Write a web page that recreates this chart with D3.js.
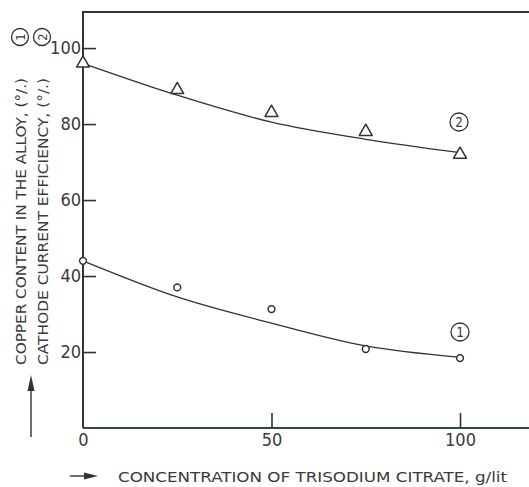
<!DOCTYPE html>
<html><head><meta charset="utf-8">
<script src="https://cdn.jsdelivr.net/npm/d3@7"></script>
<style>
html,body{margin:0;padding:0;background:#fff;}
svg{display:block;}
text{font-family:"DejaVu Sans Condensed","DejaVu Sans","Liberation Sans Narrow",sans-serif;fill:#3a3a3a;}
</style></head>
<body>
<svg id="c" width="529" height="487"></svg>
<script>
// ---- data ----
const concentration = [0, 25, 50, 75, 100];
const copperContent = [44, 37, 31.3, 20.8, 18.4];          // series 1 (circles)
const currentEfficiency = [96, 89, 83, 78, 72];             // series 2 (triangles)
const copperFit = [44, 34.5, 27.6, 21.6, 18.6];             // fitted curve 1
const efficiencyFit = [96, 87.6, 80.5, 76, 72.5];           // fitted curve 2
const xTicks = [0, 50, 100];
const yTicks = [20, 40, 60, 80, 100];
const xLabel = "CONCENTRATION OF TRISODIUM CITRATE, g/lit";
const yLabel1 = "COPPER CONTENT IN THE ALLOY, (°/.)";
const yLabel2 = "CATHODE CURRENT EFFICIENCY, (°/.)";

const svg = d3.select("#c");
const L = 83, R = 529, T = 12, B = 428;
const x = d3.scaleLinear().domain([0, 118.3]).range([L, R]);
const y = d3.scaleLinear().domain([0, 109.5]).range([B, T]);
const ink = "#333";

// frame
svg.append("path").attr("d", `M${R},${T}H${L}V${B}`).attr("fill","none").attr("stroke",ink).attr("stroke-width",2);
svg.append("line").attr("x1",L).attr("x2",R).attr("y1",B).attr("y2",B).attr("stroke","#2f4a3c").attr("stroke-width",2.2);

// axes
const yAxis = svg.append("g").attr("transform",`translate(${L},0)`)
  .call(d3.axisLeft(y).tickValues(yTicks).tickSize(-13).tickPadding(2).tickFormat(d3.format("d")));
const xAxis = svg.append("g").attr("transform",`translate(0,${B})`)
  .call(d3.axisBottom(x).tickValues(xTicks).tickSize(-15).tickPadding(5).tickFormat(d3.format("d")));
[yAxis, xAxis].forEach(g => {
  g.attr("font-size", 18).attr("font-family", null);
  g.select(".domain").remove();
  g.selectAll(".tick line").attr("stroke", ink).attr("stroke-width", 1.6);
  g.selectAll(".tick text").attr("font-size", 18).attr("fill", "#3a3a3a");
});
xAxis.selectAll(".tick").filter(d => d === 0).select("line").remove();

// curves
const line = d3.line().x(d => x(d[0])).y(d => y(d[1])).curve(d3.curveMonotoneX);
[copperFit, efficiencyFit].forEach(s => {
  svg.append("path").datum(concentration.map((c,i) => [c, s[i]]))
    .attr("d", line).attr("fill","none").attr("stroke", ink).attr("stroke-width", 1.3);
});

// markers
svg.selectAll(".pt1").data(concentration.map((c,i)=>[c, copperContent[i]])).enter()
  .append("circle").attr("cx", d=>x(d[0])).attr("cy", d=>y(d[1])).attr("r", 3.4)
  .attr("fill","#fff").attr("stroke", ink).attr("stroke-width", 1.5);
const tri = d3.symbol().type(d3.symbolTriangle).size(72);
svg.selectAll(".pt2").data(concentration.map((c,i)=>[c, currentEfficiency[i]])).enter()
  .append("path").attr("d", tri).attr("transform", d=>`translate(${x(d[0])},${y(d[1])})`)
  .attr("fill","#fff").attr("stroke", ink).attr("stroke-width", 1.5).attr("stroke-linejoin","round");

// circled labels
function circled(cx, cy, t, rot, r) {
  const gg = svg.append("g").attr("transform", `translate(${cx},${cy}) rotate(${rot||0})`);
  gg.append("circle").attr("r", r).attr("fill","none").attr("stroke", ink).attr("stroke-width", 1.3);
  gg.append("text").attr("text-anchor","middle").attr("dy","0.36em").attr("font-size", r*1.5).text(t);
}
circled(459, 122, "2", 0, 9);
circled(460, 332, "1", 0, 9);

// y labels (rotated)
function ylab(cx, txt, num) {
  svg.append("text").attr("transform", `translate(${cx+5.5},365) rotate(-90)`)
    .attr("font-size", 14.5).attr("textLength", 287).attr("lengthAdjust","spacingAndGlyphs").text(txt);
  circled(cx, 37, num, -90, 8.5);
}
ylab(20, yLabel1, "1");
ylab(42, yLabel2, "2");

// y arrow
svg.append("line").attr("x1",31).attr("x2",31).attr("y1",437).attr("y2",385).attr("stroke",ink).attr("stroke-width",1.4);
svg.append("path").attr("d","M31,375L27.5,391L34.5,391Z").attr("fill",ink);

// x label + arrow
svg.append("line").attr("x1",70).attr("x2",88).attr("y1",476).attr("y2",476).attr("stroke",ink).attr("stroke-width",1.4);
svg.append("path").attr("d","M98,476L84,472.5L84,479.5Z").attr("fill",ink);
svg.append("text").attr("x",118).attr("y",481.5).attr("font-size",14.5)
  .attr("textLength",389).attr("lengthAdjust","spacingAndGlyphs").text(xLabel);
</script>
</body></html>
